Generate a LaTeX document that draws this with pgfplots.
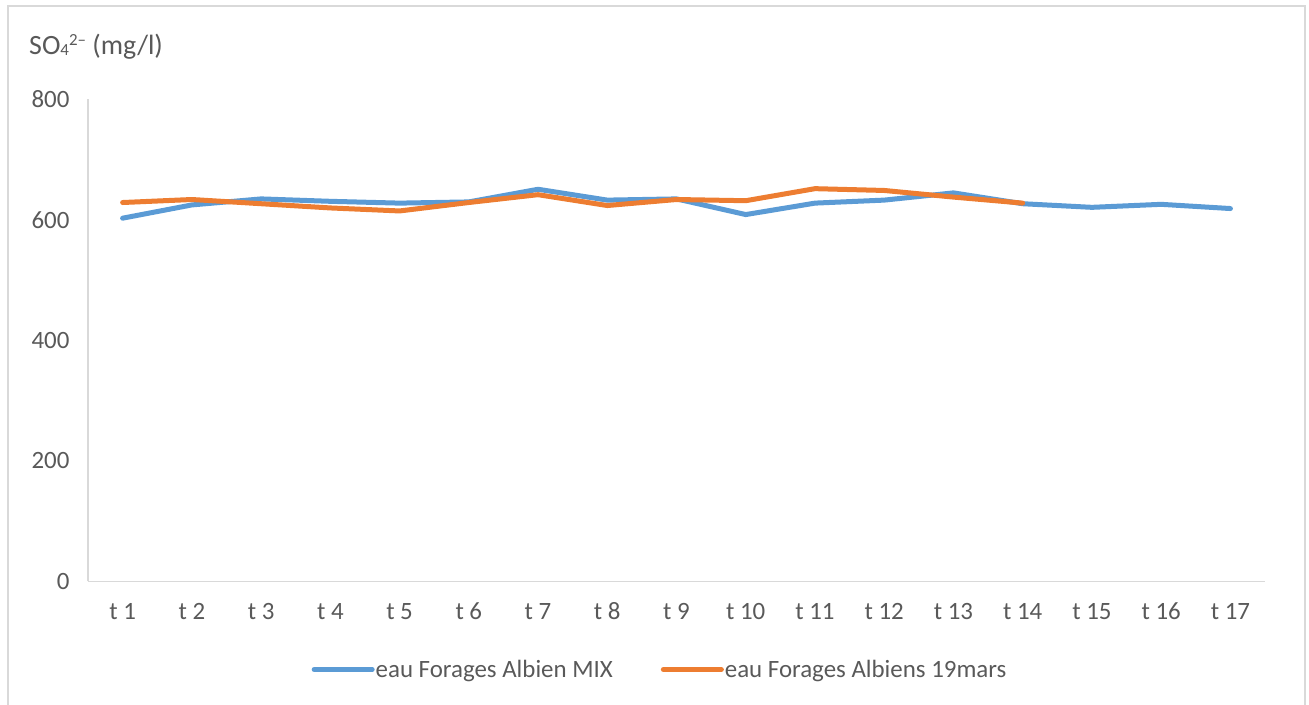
\documentclass[border=0pt]{standalone}
\usepackage{pgfplots}
\pgfplotsset{compat=1.18}
\usepackage{fontspec}
\setmainfont{Carlito}
\definecolor{cblue}{HTML}{5B9BD5}
\definecolor{corange}{HTML}{ED7D31}
\definecolor{ctext}{HTML}{595959}
\definecolor{cline}{HTML}{D9D9D9}
\begin{document}
\begin{tikzpicture}[x=1bp,y=1bp]
\path[use as bounding box] (0,0) rectangle (1309,704);
\draw[cline, line width=2bp] (8,-2) -- (8,698) -- (1305,698) -- (1305,-2);
\node[anchor=base west, text=ctext, font=\fontsize{28}{32}\selectfont, inner sep=0pt] at (29,649) {SO{\fontsize{17}{20}\selectfont\raisebox{-1bp}{4}\raisebox{9bp}{2–}} (mg/l)};
\begin{axis}[
  at={(88bp,122.5bp)}, anchor=south west,
  scale only axis, width=1177bp, height=482bp,
  xmin=0.5, xmax=17.5, ymin=0, ymax=800,
  axis x line*=bottom, axis y line*=left,
  axis line style={cline, line width=1.5bp, -},
  xtick={1,...,17},
  xticklabels={t 1,t 2,t 3,t 4,t 5,t 6,t 7,t 8,t 9,t 10,t 11,t 12,t 13,t 14,t 15,t 16,t 17},
  ytick={0,200,400,600,800},
  major tick length=0pt,
  tick label style={text=ctext, font=\fontsize{25}{30}\selectfont},
  /pgf/number format/assume math mode=true,
  yticklabel style={xshift=-15bp},
  xticklabel style={yshift=-17bp, text height=17bp, text depth=0bp},
  legend columns=2,
  legend style={draw=none, fill=none, at={(0.486,-0.1826)}, anchor=center,
    font=\fontsize{25}{30}\selectfont, text=ctext,
    /tikz/every even column/.append style={column sep=46bp},
    /tikz/every odd column/.append style={column sep=-1bp},
    inner sep=0pt},
  legend image code/.code={\draw[#1, line width=5bp, line cap=round] (0bp,0bp) -- (58bp,0bp);},
  clip=false,
]
\addplot[cblue, line width=5bp, line join=round, line cap=round] coordinates {
(1,603) (2,625) (3,635) (4,631) (5,628) (6,630) (7,651) (8,633) (9,635)
(10,609) (11,628) (12,633) (13,645) (14,627) (15,621) (16,626) (17,619)};
\addlegendentry{eau Forages Albien MIX}
\addplot[corange, line width=5bp, line join=round, line cap=round] coordinates {
(1,629) (2,634) (3,627) (4,620) (5,615) (6,629) (7,642) (8,624) (9,634)
(10,632) (11,652) (12,649) (13,638) (14,628)};
\addlegendentry{eau Forages Albiens 19mars}
\end{axis}
\end{tikzpicture}
\end{document}
